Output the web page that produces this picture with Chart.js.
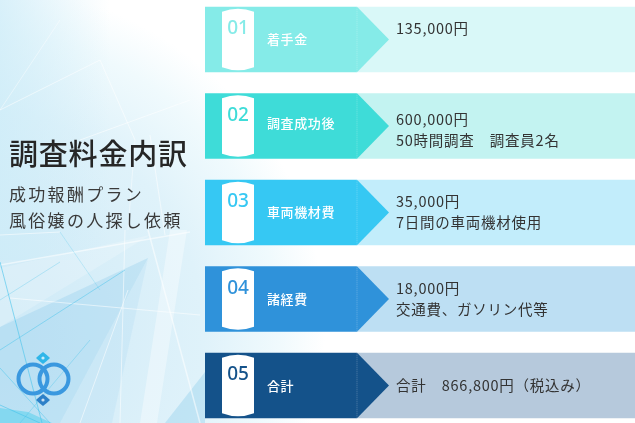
<!DOCTYPE html>
<html lang="ja">
<head>
<meta charset="utf-8">
<title>調査料金内訳</title>
<script src="https://cdn.jsdelivr.net/npm/chart.js@4"></script>
<style>
  html, body { margin: 0; padding: 0; background: #fff; }
  #wrap { position: relative; width: 635px; height: 423px; overflow: hidden; }
</style>
</head>
<body>
<div id="wrap"><canvas id="feeChart" width="635" height="423"></canvas></div>
<script>
const title = "調査料金内訳";
const subtitleLines = ["成功報酬プラン", "風俗嬢の人探し依頼"];

const categories = ["着手金", "調査成功後", "車両機材費", "諸経費", "合計"];
const stepNumbers = ["01", "02", "03", "04", "05"];
const amountLines = ["135,000円", "600,000円", "35,000円", "18,000円", "合計　866,800円（税込み）"];
const noteLines = ["", "50時間調査　調査員2名", "7日間の車両機材使用", "交通費、ガソリン代等", ""];

const labelSpan = categories.map(() => 152);
const detailSpan = categories.map(() => 278);

const strongColors = ["#85ebe8", "#3edcd8", "#36c8f3", "#2f92da", "#14528a"];
const paleColors = ["#d9f8f8", "#c3f3f1", "#c2edfb", "#bddff3", "#b6c9dc"];

// the text does not sit quite the same in every row
const labelNudge = [0, -3, 0, 0, 0.5];
const detailNudge = [-1, 4, -1, 0, 0];

const jpFont = '"Noto Sans CJK JP", "Noto Sans", sans-serif';

// ---------- BACKGROUND ----------
const whiteLines = [
  [0, 110, 100, 60, 1], [0, 110, 60, 20, 0.8], [100, 60, 135, 140, 1], [135, 140, 128, 230, 0.8],
  [80, 140, 190, 100, 1], [0, 265, 190, 232, 1.5], [125, 230, 120, 423, 1], [148, 230, 200, 423, 1.5],
  [10, 298, 200, 315, 1], [80, 423, 128, 290, 1], [0, 235, 60, 232, 1], [150, 135, 165, 235, 1]
];
const cyanLines = [
  [0, 262, 42, 423, 1], [0, 350, 125, 270, 0.8], [0, 405, 40, 423, 1], [20, 423, 90, 340, 0.6],
  [0, 300, 60, 262, 0.5], [0, 368, 50, 423, 0.8], [60, 232, 100, 290, 0.4]
];

function drawBackground(ctx) {
  ctx.fillStyle = "#ffffff";
  ctx.fillRect(0, 0, 635, 423);

  const glow = ctx.createRadialGradient(-20, 340, 40, -20, 330, 345);
  glow.addColorStop(0, "#cfeaf7");
  glow.addColorStop(0.6, "#dff2fa");
  glow.addColorStop(0.85, "#f0fafd");
  glow.addColorStop(1, "#ffffff");
  ctx.fillStyle = glow;
  ctx.fillRect(0, 0, 350, 423);

  const edge = ctx.createLinearGradient(0, 0, 110, 0);
  edge.addColorStop(0, "rgba(205,236,248,0.75)");
  edge.addColorStop(1, "rgba(205,236,248,0)");
  ctx.fillStyle = edge;
  ctx.fillRect(0, 0, 110, 260);

  const shapes = [
    ["rgba(130,198,234,0.28)", [[0, 327], [148, 258], [60, 423], [0, 423]]],
    ["rgba(165,216,242,0.22)", [[148, 258], [112, 423], [60, 423]]],
    ["rgba(255,255,255,0.36)", [[170, 230], [187, 230], [157, 423], [140, 423]]],
    ["rgba(255,255,255,0.2)", [[0, 268], [150, 235], [0, 327]]],
    ["rgba(120,195,232,0.3)", [[165, 423], [205, 372], [205, 423]]],
    ["#84d8f0", [[0, 408], [28, 412], [52, 423], [0, 423]]]
  ];
  shapes.forEach(([fill, points]) => {
    ctx.fillStyle = fill;
    ctx.beginPath();
    points.forEach(([x, y], i) => (i ? ctx.lineTo(x, y) : ctx.moveTo(x, y)));
    ctx.closePath();
    ctx.fill();
  });

  ctx.strokeStyle = "rgba(255,255,255,0.55)";
  whiteLines.forEach(([x1, y1, x2, y2, w]) => {
    ctx.lineWidth = w;
    ctx.beginPath();
    ctx.moveTo(x1, y1);
    ctx.lineTo(x2, y2);
    ctx.stroke();
  });
  ctx.strokeStyle = "rgba(70,195,235,0.6)";
  cyanLines.forEach(([x1, y1, x2, y2, w]) => {
    ctx.lineWidth = w;
    ctx.beginPath();
    ctx.moveTo(x1, y1);
    ctx.lineTo(x2, y2);
    ctx.stroke();
  });
}

function drawDiamond(ctx, x, y, color) {
  ctx.fillStyle = color;
  ctx.beginPath();
  ctx.moveTo(x - 7, y);
  ctx.quadraticCurveTo(x - 4, y - 3, x, y - 6);
  ctx.quadraticCurveTo(x + 4, y - 3, x + 7, y);
  ctx.quadraticCurveTo(x + 4, y + 3, x, y + 6);
  ctx.quadraticCurveTo(x - 4, y + 3, x - 7, y);
  ctx.fill();
  ctx.fillStyle = "rgba(255,255,255,0.75)";
  ctx.beginPath();
  ctx.arc(x, y, 1.6, 0, Math.PI * 2);
  ctx.fill();
}

function drawRings(ctx) {
  ctx.lineWidth = 4;
  ctx.strokeStyle = "#3a98df";
  ctx.beginPath();
  ctx.arc(33, 379, 14.5, 0, Math.PI * 2);
  ctx.stroke();
  ctx.beginPath();
  ctx.arc(54, 379, 14.5, 0, Math.PI * 2);
  ctx.stroke();
  drawDiamond(ctx, 43, 358, "#2fb6e9");
  drawDiamond(ctx, 43, 400, "#2d80c8");
}

function drawHeading(ctx) {
  ctx.textAlign = "left";
  ctx.textBaseline = "middle";
  ctx.fillStyle = "#262626";
  ctx.font = "500 29px " + jpFont;
  ctx.letterSpacing = "0.8px";
  ctx.fillText(title, 9, 154);
  ctx.fillStyle = "#3a3a3a";
  ctx.font = "17px " + jpFont;
  ctx.letterSpacing = "2.3px";
  ctx.fillText(subtitleLines[0], 9, 195);
  ctx.fillText(subtitleLines[1], 9, 221);
  ctx.letterSpacing = "0px";
}

// ---------- ROW DECORATION ----------
function drawDrum(ctx, left, right, top, bottom) {
  const mid = (left + right) / 2;
  ctx.fillStyle = "#ffffff";
  ctx.beginPath();
  ctx.moveTo(left, top + 3);
  ctx.quadraticCurveTo(mid, top - 3, right, top + 3);
  ctx.lineTo(right, bottom - 3);
  ctx.quadraticCurveTo(mid, bottom + 3, left, bottom - 3);
  ctx.closePath();
  ctx.fill();
}

const stageBackdrop = {
  id: "stageBackdrop",
  // rows overrun the canvas a little, so the band scale is stretched past its edges
  afterLayout(chart) {
    const y = chart.scales.y;
    y.top = -3.75;
    y.bottom = 428.75;
    y.height = y.bottom - y.top;
    y.configure();
    chart.chartArea.top = y.top;
    chart.chartArea.bottom = y.bottom;
    chart.chartArea.height = y.height;
  },
  beforeDraw(chart) {
    const ctx = chart.ctx;
    ctx.save();
    drawBackground(ctx);
    drawRings(ctx);
    drawHeading(ctx);
    ctx.restore();
  }
};

const rowDecoration = {
  id: "rowDecoration",
  afterDatasetsDraw(chart) {
    const ctx = chart.ctx;
    const labelBars = chart.getDatasetMeta(0).data;
    const detailBars = chart.getDatasetMeta(1).data;
    ctx.save();
    labelBars.forEach((bar, i) => {
      const top = bar.y - bar.height / 2;
      const bottom = bar.y + bar.height / 2;

      // arrow head pointing into the pale panel
      ctx.fillStyle = strongColors[i];
      ctx.beginPath();
      ctx.moveTo(bar.x, top);
      ctx.lineTo(bar.x + 32, bar.y);
      ctx.lineTo(bar.x, bottom);
      ctx.closePath();
      ctx.fill();

      ctx.strokeStyle = "rgba(255,255,255,0.45)";
      ctx.lineWidth = 0.6;
      ctx.setLineDash([1, 1]);
      ctx.beginPath();
      ctx.moveTo(bar.x, top);
      ctx.lineTo(bar.x, bottom);
      ctx.stroke();
      ctx.setLineDash([]);

      drawDrum(ctx, bar.base + 17, bar.base + 49, top + 2, bottom - 2);

      ctx.textBaseline = "middle";
      ctx.textAlign = "center";
      ctx.fillStyle = strongColors[i];
      ctx.font = '500 19px "Noto Sans", sans-serif';
      ctx.fillText(stepNumbers[i], bar.base + 33, top + 22);

      ctx.textAlign = "left";
      ctx.fillStyle = "#ffffff";
      ctx.font = "500 13px " + jpFont;
      ctx.letterSpacing = "0.6px";
      ctx.fillText(categories[i], bar.base + 62, bar.y + labelNudge[i]);

      const textX = detailBars[i].base + 39;
      const singleRow = i === categories.length - 1;
      const textY = bar.y + detailNudge[i];
      ctx.fillStyle = "#333333";
      ctx.font = "14.5px " + jpFont;
      ctx.letterSpacing = "0.75px";
      ctx.fillText(amountLines[i], textX, singleRow ? textY : textY - 10.5);
      if (noteLines[i]) ctx.fillText(noteLines[i], textX, textY + 10.5);
      ctx.letterSpacing = "0px";
    });
    ctx.restore();
  }
};

// ---------- CHART ----------
new Chart(document.getElementById("feeChart"), {
  type: "bar",
  data: {
    labels: categories,
    datasets: [
      { label: "項目", data: labelSpan, backgroundColor: strongColors, borderWidth: 0 },
      { label: "内容", data: detailSpan, backgroundColor: paleColors, borderWidth: 0 }
    ]
  },
  options: {
    indexAxis: "y",
    responsive: false,
    animation: false,
    devicePixelRatio: 1,
    layout: { padding: { left: 205, right: 0, top: 0, bottom: 0 } },
    datasets: { bar: { categoryPercentage: 1, barPercentage: 0.757 } },
    scales: {
      x: { stacked: true, min: 0, max: 430, display: false },
      y: { stacked: true, display: false }
    },
    plugins: { legend: { display: false }, tooltip: { enabled: false }, title: { display: false } }
  },
  plugins: [stageBackdrop, rowDecoration]
});
</script>
</body>
</html>
